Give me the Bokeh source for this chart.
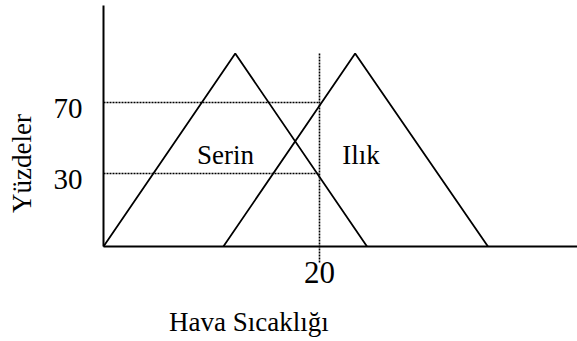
from bokeh.plotting import figure
from bokeh.models import Range1d, FixedTicker, Label, LinearAxis
from bokeh.core.properties import value
from bokeh.embed import file_html
from bokeh.resources import INLINE
import math

# ---- data ----
serin_x = [0.0, 12.2, 24.4]
serin_y = [-11.1, 97.6, -11.1]
ilik_x = [11.1, 23.3, 35.6]
ilik_y = [-11.1, 97.6, -11.1]
set_names = ["Serin", "Ilık"]
x_ticks = [20]
y_ticks = [30, 70]
guide_x = 20
guide_levels = [70, 30]
guide_top = 97.6
guide_bottom = -20.7
axis_base = -11.1
x_axis_end = 43.889
y_axis_top = 124.7

FONT = "Liberation Serif"
Y0, Y1 = -64.62, 127.49
LBL_SHIFT = 3.1  # tick labels sit slightly below their guide lines in the original

p = figure(width=577, height=341, output_backend="svg", toolbar_location=None,
           x_range=Range1d(-9.537, 43.889), y_range=Range1d(Y0, Y1),
           min_border_left=0, min_border_right=0, min_border_top=0,
           min_border_bottom=0)
p.outline_line_color = None
p.xgrid.visible = False
p.ygrid.visible = False
p.background_fill_color = "white"
p.border_fill_color = "white"
p.extra_y_ranges = {"lab": Range1d(Y0 + LBL_SHIFT, Y1 + LBL_SHIFT)}

def style(ax):
    ax.axis_line_width = 2
    ax.axis_line_color = "black"
    ax.major_tick_line_color = None
    ax.minor_tick_line_color = None
    ax.major_tick_in = 0
    ax.major_tick_out = 0
    ax.major_label_text_font = FONT
    ax.major_label_text_color = "black"
    ax.major_label_text_font_style = "normal"

xa = p.xaxis[0]
ya = p.yaxis[0]
style(xa)
style(ya)
xa.ticker = FixedTicker(ticks=x_ticks)
ya.ticker = FixedTicker(ticks=y_ticks)
xa.fixed_location = axis_base
ya.fixed_location = 0
xa.bounds = (0, x_axis_end)
ya.bounds = (axis_base, y_axis_top)
xa.major_label_text_font_size = "31px"
xa.major_label_standoff = 15
ya.major_label_text_font_size = "29px"
ya.major_label_text_color = None

# tick labels of the y axis (30, 70)
ylab = LinearAxis(y_range_name="lab", ticker=FixedTicker(ticks=y_ticks))
style(ylab)
ylab.axis_line_color = None
ylab.fixed_location = 0
ylab.major_label_text_font_size = "29px"
ylab.major_label_standoff = 21
p.add_layout(ylab, "left")

# triangles
p.line(serin_x, serin_y, line_color="black", line_width=1.8)
p.line(ilik_x, ilik_y, line_color="black", line_width=1.8)

# dotted guides
p.segment(x0=[0] * len(guide_levels), y0=guide_levels,
          x1=[guide_x] * len(guide_levels), y1=guide_levels,
          line_color="black", line_width=1.6, line_dash="2 1")
p.segment(x0=[guide_x], y0=[guide_top], x1=[guide_x], y1=[guide_bottom],
          line_color="black", line_width=1.6, line_dash="2 1")

# set names
p.text(x=[11.3, 23.84], y=[40.3, 40.3], text=set_names,
       text_font=value(FONT), text_font_size="27px", text_color="black",
       text_align="center", text_baseline="alphabetic")

def lab(text, x, y, angle=0.0):
    p.add_layout(Label(x=x, y=y, text=text, text_font=FONT, text_font_size="27px",
                       text_color="black", text_align="center",
                       text_baseline="alphabetic", angle=angle))

lab("Hava Sıcaklığı", 13.47, -53.4)
lab("Yüzdeler", -7.59, 35.66, angle=math.pi / 2)

open("out.html", "w").write(file_html(p, INLINE))
